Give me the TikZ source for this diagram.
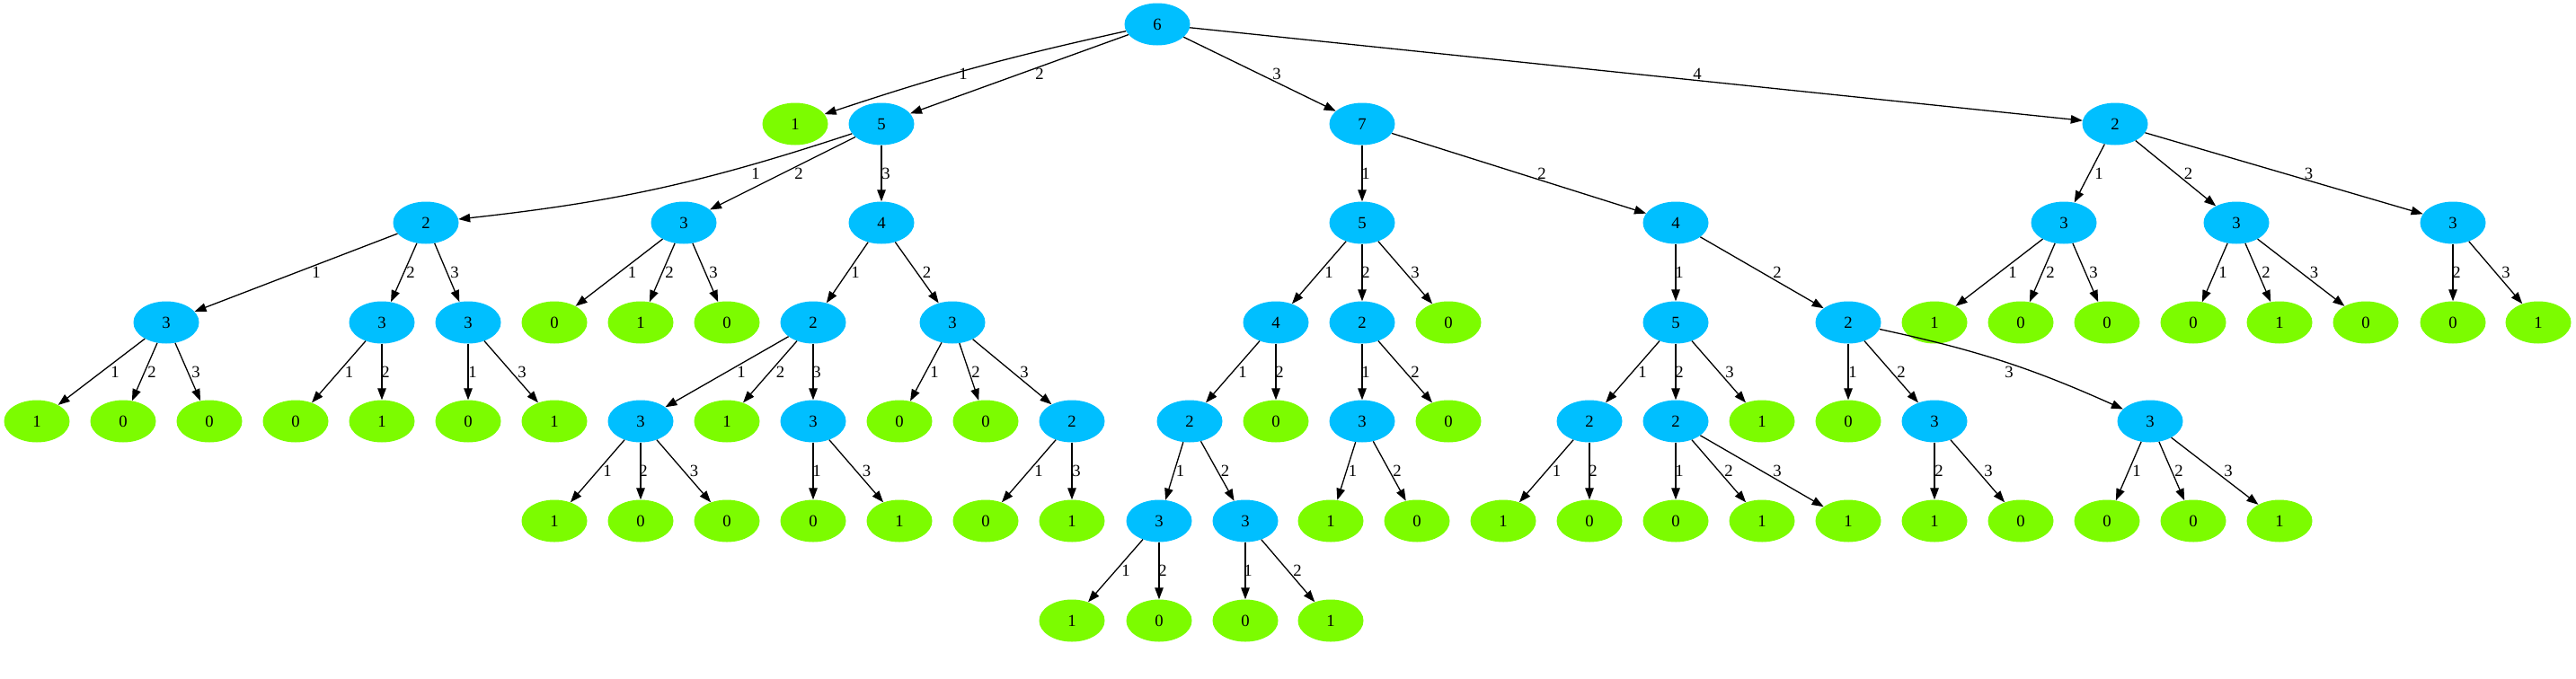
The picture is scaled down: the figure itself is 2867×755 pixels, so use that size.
\documentclass[tikz,border=0pt]{standalone}
\usepackage{fontspec}
\setmainfont{Liberation Serif}
\usetikzlibrary{shapes.geometric,arrows.meta}
\definecolor{dsb}{RGB}{0,191,255}
\definecolor{lgr}{RGB}{124,252,0}
\newcommand\nfont{\fontsize{18.7}{22}\selectfont}
\newcommand\ed[5][]{%
  \draw[edge] (#2) to[#1] (#3);
  \path (#2) -- (#3) coordinate[midway] (mm);
  \node[lbl] at (#5,0 |- mm) {#4};}
\tikzset{
  bn/.style={ellipse, fill=dsb, draw=none, minimum width=73pt, minimum height=47pt, inner sep=0pt, font=\nfont},
  gn/.style={bn, fill=lgr},
  edge/.style={-{Triangle[length=13pt,width=9.5pt]}, line width=1.3pt},
  lbl/.style={font=\nfont, inner sep=0pt}
}
\begin{document}
\begin{tikzpicture}[x=1pt,y=-1pt]
\useasboundingbox[fill=white] (0,0) rectangle (2867,755);
% row 0
\node[bn] (r) at (1288,27) {6};
% row 1
\node[gn] (a1) at (885,138) {1};
\node[bn] (a2) at (981,138) {5};
\node[bn] (a3) at (1516,138) {7};
\node[bn] (a4) at (2354,138) {2};
% row 2
\node[bn] (b1) at (474,248) {2};
\node[bn] (b2) at (761,248) {3};
\node[bn] (b3) at (981,248) {4};
\node[bn] (b4) at (1516,248) {5};
\node[bn] (b5) at (1865,248) {4};
\node[bn] (b6) at (2297,248) {3};
\node[bn] (b7) at (2489,248) {3};
\node[bn] (b8) at (2730,248) {3};
% row 3
\node[bn] (c1) at (185,359) {3};
\node[bn] (c2) at (425,359) {3};
\node[bn] (c3) at (521,359) {3};
\node[gn] (c4) at (617,359) {0};
\node[gn] (c5) at (713,359) {1};
\node[gn] (c6) at (809,359) {0};
\node[bn] (c7) at (905,359) {2};
\node[bn] (c8) at (1060,359) {3};
\node[bn] (c9) at (1420,359) {4};
\node[bn] (c10) at (1516,359) {2};
\node[gn] (c11) at (1612,359) {0};
\node[bn] (c12) at (1865,359) {5};
\node[bn] (c13) at (2057,359) {2};
\node[gn] (c14) at (2153,359) {1};
\node[gn] (c15) at (2249,359) {0};
\node[gn] (c16) at (2345,359) {0};
\node[gn] (c17) at (2441,359) {0};
\node[gn] (c18) at (2537,359) {1};
\node[gn] (c19) at (2633,359) {0};
\node[gn] (c20) at (2730,359) {0};
\node[gn] (c21) at (2825,359) {1};
% row 4
\node[gn] (d1) at (41,469) {1};
\node[gn] (d2) at (137,469) {0};
\node[gn] (d3) at (233,469) {0};
\node[gn] (d4) at (329,469) {0};
\node[gn] (d5) at (425,469) {1};
\node[gn] (d6) at (521,469) {0};
\node[gn] (d7) at (617,469) {1};
\node[bn] (d8) at (713,469) {3};
\node[gn] (d9) at (809,469) {1};
\node[bn] (d10) at (905,469) {3};
\node[gn] (d11) at (1001,469) {0};
\node[gn] (d12) at (1097,469) {0};
\node[bn] (d13) at (1193,469) {2};
\node[bn] (d14) at (1324,469) {2};
\node[gn] (d15) at (1420,469) {0};
\node[bn] (d16) at (1516,469) {3};
\node[gn] (d17) at (1612,469) {0};
\node[bn] (d18) at (1769,469) {2};
\node[bn] (d19) at (1865,469) {2};
\node[gn] (d20) at (1961,469) {1};
\node[gn] (d21) at (2057,469) {0};
\node[bn] (d22) at (2153,469) {3};
\node[bn] (d23) at (2393,469) {3};
% row 5
\node[gn] (e1) at (617,580) {1};
\node[gn] (e2) at (713,580) {0};
\node[gn] (e3) at (809,580) {0};
\node[gn] (e4) at (905,580) {0};
\node[gn] (e5) at (1001,580) {1};
\node[gn] (e6) at (1097,580) {0};
\node[gn] (e7) at (1193,580) {1};
\node[bn] (e8) at (1290,580) {3};
\node[bn] (e9) at (1386,580) {3};
\node[gn] (e10) at (1481,580) {1};
\node[gn] (e11) at (1577,580) {0};
\node[gn] (e12) at (1673,580) {1};
\node[gn] (e13) at (1769,580) {0};
\node[gn] (e14) at (1865,580) {0};
\node[gn] (e15) at (1961,580) {1};
\node[gn] (e16) at (2057,580) {1};
\node[gn] (e17) at (2153,580) {1};
\node[gn] (e18) at (2249,580) {0};
\node[gn] (e19) at (2345,580) {0};
\node[gn] (e20) at (2441,580) {0};
\node[gn] (e21) at (2537,580) {1};
% row 6
\node[gn] (f1) at (1193,691) {1};
\node[gn] (f2) at (1290,691) {0};
\node[gn] (f3) at (1386,691) {0};
\node[gn] (f4) at (1481,691) {1};
% edges
\ed[bend right=3]{r}{a1}{1}{1072}
\ed{r}{a2}{2}{1157}
\ed{r}{a3}{3}{1421}
\ed{r}{a4}{4}{1889}
\ed[bend left=6]{a2}{b1}{1}{841}
\ed{a2}{b2}{2}{889}
\ed{a2}{b3}{3}{986}
\ed{b1}{c1}{1}{352}
\ed{b1}{c2}{2}{457}
\ed{b1}{c3}{3}{506}
\ed{c1}{d1}{1}{128}
\ed{c1}{d2}{2}{169}
\ed{c1}{d3}{3}{218}
\ed{c2}{d4}{1}{388.5}
\ed{c2}{d5}{2}{429}
\ed{c3}{d6}{1}{526}
\ed{c3}{d7}{3}{581}
\ed{b2}{c4}{1}{703.5}
\ed{b2}{c5}{2}{745}
\ed{b2}{c6}{3}{794}
\ed{b3}{c7}{1}{952}
\ed{b3}{c8}{2}{1031.5}
\ed{c7}{d8}{1}{825}
\ed{c7}{d9}{2}{868.5}
\ed{c7}{d10}{3}{909}
\ed{d8}{e1}{1}{676}
\ed{d8}{e2}{2}{716}
\ed{d8}{e3}{3}{772.5}
\ed{d10}{e4}{1}{909}
\ed{d10}{e5}{3}{964.5}
\ed{c8}{d11}{1}{1040}
\ed{c8}{d12}{2}{1086}
\ed{c8}{d13}{3}{1140}
\ed{d13}{e6}{1}{1156}
\ed{d13}{e7}{3}{1198}
\ed{a3}{b4}{1}{1520}
\ed{a3}{b5}{2}{1716}
\ed{b4}{c9}{1}{1479}
\ed{b4}{c10}{2}{1520}
\ed{b4}{c11}{3}{1575}
\ed{c9}{d14}{1}{1383}
\ed{c9}{d15}{2}{1424}
\ed{d14}{e8}{1}{1313.5}
\ed{d14}{e9}{2}{1363.5}
\ed{e8}{f1}{1}{1253}
\ed{e8}{f2}{2}{1294}
\ed{e9}{f3}{1}{1389}
\ed{e9}{f4}{2}{1444}
\ed{c10}{d16}{1}{1520}
\ed{c10}{d17}{2}{1575}
\ed{d16}{e10}{1}{1505.6}
\ed{d16}{e11}{2}{1555}
\ed{b5}{c12}{1}{1869}
\ed{b5}{c13}{2}{1978}
\ed{c12}{d18}{1}{1828}
\ed{c12}{d19}{2}{1869}
\ed{c12}{d20}{3}{1925}
\ed{d18}{e12}{1}{1732.5}
\ed{d18}{e13}{2}{1773}
\ed{d19}{e14}{1}{1869}
\ed{d19}{e15}{2}{1924}
\ed{d19}{e16}{3}{1978}
\ed{c13}{d21}{1}{2062}
\ed{c13}{d22}{2}{2116}
\ed[bend left=6]{c13}{d23}{3}{2236}
\ed{d22}{e17}{2}{2158}
\ed{d22}{e18}{3}{2213}
\ed{d23}{e19}{1}{2378}
\ed{d23}{e20}{2}{2425}
\ed{d23}{e21}{3}{2480}
\ed{a4}{b6}{1}{2336}
\ed{a4}{b7}{2}{2435.5}
\ed{a4}{b8}{3}{2569.6}
\ed{b6}{c14}{1}{2240}
\ed{b6}{c15}{2}{2282}
\ed{b6}{c16}{3}{2330}
\ed{b7}{c17}{1}{2474}
\ed{b7}{c18}{2}{2522}
\ed{b7}{c19}{3}{2575.5}
\ed{b8}{c20}{2}{2734}
\ed{b8}{c21}{3}{2789}
\end{tikzpicture}
\end{document}
